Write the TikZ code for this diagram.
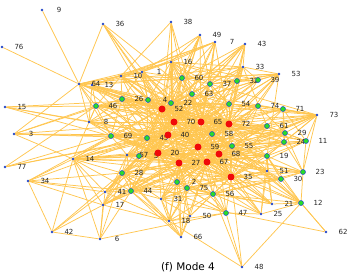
\documentclass[tikz,border=0pt]{standalone}
\usepackage{fontspec}
\setmainfont{DejaVu Sans}
\usetikzlibrary{backgrounds}
\definecolor{edgec}{RGB}{255,198,80}
\definecolor{nodered}{RGB}{240,10,10}
\definecolor{nodegreen}{RGB}{40,220,40}
\definecolor{nodeblue}{RGB}{35,70,200}
\def\myvertices{1/142/72/b, 2/177/182/g, 3/14/134/b, 4/148/100/g, 5/139/156/g, 6/100/239/b, 7/215/42/b, 8/89/122/b, 9/42/10/b, 10/121/76/b, 11/306/141/g, 12/301/203/g, 13/92/85/b, 14/73/159/b, 15/5/107/b, 16/171/62/b, 17/103/205/b, 18/169/221/b, 19/267/156/g, 20/158/153/r, 21/272/204/b, 22/171/103/g, 23/303/172/g, 24/284/142/g, 25/261/214/b, 26/122/99/g, 27/179/163/r, 28/122/173/g, 29/285/133/g, 30/281/179/g, 31/161/199/b, 32/237/81/g, 33/243/67/b, 34/28/181/b, 35/231/177/r, 36/103/24/b, 37/210/84/g, 38/171/22/b, 39/258/80/g, 40/168/135/r, 41/105/192/b, 42/52/232/b, 43/245/44/b, 44/131/191/g, 45/147/138/g, 46/96/106/g, 47/226/213/g, 48/242/267/b, 49/200/35/b, 50/190/216/b, 51/267/171/b, 52/162/109/r, 53/279/74/b, 54/229/104/g, 55/232/146/g, 56/213/194/g, 57/127/155/b, 58/212/134/g, 59/198/147/r, 60/182/78/g, 61/267/126/g, 62/326/232/b, 63/192/94/g, 64/79/84/b, 65/201/122/r, 66/181/237/b, 67/207/162/r, 68/219/154/r, 69/111/136/g, 70/174/122/r, 71/283/109/g, 72/229/124/r, 73/317/115/b, 74/258/106/g, 75/187/188/g, 76/2/47/b, 77/5/167/b}
\begin{document}
\begin{tikzpicture}[x=1pt,y=-1pt,
  edge/.style={draw=edgec,line width=0.75pt},
  r node/.style={circle,fill=nodered,inner sep=0pt,minimum size=7pt},
  g node/.style={circle,fill=nodegreen,draw=nodeblue,line width=0.5pt,inner sep=0pt,minimum size=5pt},
  b node/.style={circle,fill=nodeblue,inner sep=0pt,minimum size=2.6pt},
  lbl/.style={font=\fontsize{7}{8}\selectfont,inner sep=0pt,text=black!85}]
\useasboundingbox (0,0) rectangle (354,274);
\foreach \n/\x/\y/\s in \myvertices { \node[lbl] (l\n) at (\x+17,\y) {\n}; }
\foreach \n/\x/\y/\s in \myvertices { \node[\s\space node] (v\n) at (\x,\y) {}; }
\node[font=\fontsize{10.5}{12}\selectfont] (cap) at (188,267) {(f) Mode 4};
\begin{pgfonlayer}{background}
\foreach \a/\bs in {%
 20/{27,35,40,52,59,65,67,68,70,72,2,4,5,22,26,28,44,45,46,54,55,56,58,60,63,69,75,8,14,17,41,57,31,18,10,13,1,16,61,19,51},%
 27/{35,40,52,59,65,67,68,70,72,2,5,22,28,44,45,54,55,56,58,63,69,75,37,61,19,14,17,31,18,66,47,50,21,25,57,8,46,74},%
 35/{40,52,59,65,67,68,70,72,2,12,19,23,24,29,30,44,55,56,58,61,74,75,11,21,25,47,48,51,50,31,28,5,45,14,69,22,63},%
 40/{52,59,65,67,68,70,72,4,5,22,26,28,44,45,46,54,55,58,60,63,69,75,61,19,29,71,8,13,10,14,41,57,3,15,77,49,36,1,16,51,24},%
 52/{59,65,67,68,70,72,4,22,26,28,32,37,39,45,46,54,55,58,60,63,69,74,5,44,1,10,13,16,36,38,49,64,8,14,57,33,53,43,61},%
 59/{65,67,68,70,72,2,19,22,24,29,44,45,54,55,56,58,61,63,69,74,75,4,26,11,23,21,31,51,57,14,17,33,53,73,16,7},%
 65/{67,68,70,72,4,11,19,22,24,26,29,32,37,39,46,54,55,58,60,61,63,69,71,74,45,5,7,8,13,16,33,43,49,53,73,1,10,64,51},%
 67/{68,70,72,2,5,12,19,23,24,28,30,44,45,55,56,58,61,69,75,29,11,17,18,21,25,31,47,50,51,57,66,14,41,73},%
 68/{70,72,2,5,11,12,19,22,23,24,28,29,30,44,54,55,56,58,61,71,74,75,21,25,41,47,51,57,73,33,53,14,17},%
 70/{72,4,5,22,26,28,37,39,45,46,54,58,60,63,69,74,55,44,32,61,1,3,8,10,13,14,16,36,38,49,57,64,7,43,33,41},%
 72/{4,5,11,19,22,24,26,29,32,37,39,45,54,55,58,60,61,63,69,71,74,46,28,2,7,33,43,53,73,51,16,1,13,8,10,14,57},%
 64/{9,76,36,13,3,46,8,33,53,10,1,16,26,4,69,45},%
 36/{63,22},%
 38/{16,10,63,22,60},%
 49/{16,60,1,22,37},%
 7/{16,60,37,63,10,1,13},%
 43/{33,37,32,54,63,22,60},%
 33/{53,16,60,37,54,61,39},%
 53/{39,32,54,74,60,19,37},%
 73/{71,74,61,29,24,54,55,58,19,11,23,37,63,22},%
 11/{29,61,19,55,23,71},%
 12/{62,48,23,19,51,56,21,30,55,58},%
 62/{31,12},%
 48/{56,47,18},%
 21/{56,19,51,75},%
 25/{56,47,12,19,51},%
 47/{6,56,75,18,2,28},%
 66/{18,31,44,50,75,2,28},%
 50/{18,56,31,2},%
 18/{31,44,41,75,2,28,17,56},%
 6/{42,17,41,14,28,44},%
 42/{17,14,34,41,28},%
 17/{34,14,44,28,5,57},%
 41/{34,44,28,14,5},%
 34/{14,44,28,69,45},%
 77/{69,45,46},%
 14/{3,28,57,44,5,69,46,45},%
 3/{69,46,26,45},%
 15/{69,46,8,4},%
 8/{46,69,13,26,4,45},%
 46/{13,10,26,22,54,4},%
 13/{10,1,60,26,4,22},%
 10/{1,16,26,4,22,60},%
 1/{16,4,60,22,26},%
 16/{60,37,22,4,39,63,32,54},%
 57/{5,45,69,28,44,2},%
 31/{44,2,75,28,56},%
 51/{30,23,19,55,56,75},%
 30/{23,19,56},%
 23/{19,24,29},%
 24/{29,19,55},%
 71/{74,61,29,24},%
 4/{22,26,60,63,45,69},%
 22/{60,63,37,54,45},%
 60/{37,63,32},%
 37/{32,39,54},%
 39/{54,32},%
 54/{74,63,37},%
 74/{71,29},%
 61/{29,24,58,55,69},%
 19/{55,30},%
 55/{58,61,5,69},%
 58/{45,63},%
 45/{69,5},%
 69/{46,26},%
 26/{5,74},%
 5/{57,28},%
 28/{44,56,19},%
 44/{2,56,75},%
 2/{75,56},%
 75/{56,30},%
 56/{30,23}} { \foreach \b in \bs { \draw[edge] (v\a) -- (v\b); } }
\end{pgfonlayer}
\end{tikzpicture}
\end{document}
